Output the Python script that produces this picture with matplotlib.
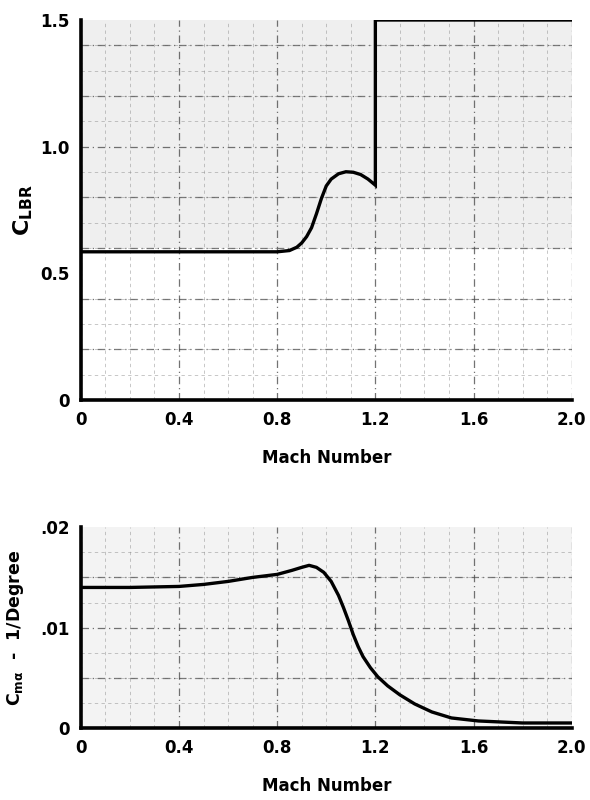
import numpy as np
import matplotlib
matplotlib.use('Agg')
import matplotlib.pyplot as plt
from matplotlib.ticker import MultipleLocator

# Lift coefficient for best range vs Mach number
mach_top = [0, 0.80, 0.85, 0.88, 0.90, 0.92, 0.94, 0.96, 0.98, 1.00, 1.02, 1.05, 1.08,
            1.11, 1.14, 1.17, 1.20, 1.20, 2.0]
clbr = [0.585, 0.585, 0.59, 0.603, 0.62, 0.645, 0.68, 0.735, 0.795, 0.845, 0.872, 0.893, 0.901,
        0.899, 0.89, 0.872, 0.848, 1.5, 1.5]

# Cm_alpha per degree vs Mach number
mach_bot = [0, 0.2, 0.4, 0.5, 0.6, 0.7, 0.8, 0.86, 0.9, 0.93, 0.96, 0.99, 1.02, 1.05, 1.07,
            1.09, 1.11, 1.13, 1.15, 1.18, 1.21, 1.25, 1.30, 1.36, 1.43, 1.51, 1.62, 1.8, 2.0]
cma = [0.0140, 0.0140, 0.0141, 0.0143, 0.0146, 0.0150, 0.0153, 0.0157, 0.0160, 0.0162, 0.0160,
       0.0155, 0.0146, 0.0132, 0.0120, 0.0107, 0.0093, 0.0081, 0.0071, 0.0060, 0.0051, 0.0042,
       0.0033, 0.0024, 0.0016, 0.0010, 0.0007, 0.0005, 0.0005]

x_ticks = [0, 0.4, 0.8, 1.2, 1.6, 2.0]
x_labels = ['0', '0.4', '0.8', '1.2', '1.6', '2.0']
top_yticks = [0, 0.5, 1.0, 1.5]
top_ylabels = ['0', '0.5', '1.0', '1.5']
top_grid = [0.2, 0.4, 0.6, 0.8, 1.0, 1.2, 1.4]
bot_yticks = [0, 0.01, 0.02]
bot_ylabels = ['0', '.01', '.02']
bot_grid = [0.005, 0.01, 0.015]

plt.rcParams['font.family'] = ['DejaVu Sans']
plt.rcParams['font.weight'] = 'bold'

dash = (0, (6, 3, 1, 3))

fig = plt.figure(figsize=(5.9, 8), dpi=100)
ax1 = fig.add_axes([0.137, 0.5, 0.832, 0.475])
ax2 = fig.add_axes([0.137, 0.09, 0.832, 0.251])


def style(ax, minor_y, grid_vals):
    ax.set_xlim(0, 2.0)
    ax.xaxis.set_minor_locator(MultipleLocator(0.1))
    ax.yaxis.set_minor_locator(MultipleLocator(minor_y))
    ax.grid(which='major', axis='x', color='#444444', linestyle=dash, linewidth=0.9, alpha=0.75)
    ax.grid(which='minor', color='#888888', linestyle=(0, (4, 4)), linewidth=0.6, alpha=0.55)
    for v in grid_vals:
        ax.axhline(v, color='#444444', linestyle=dash, linewidth=0.9, alpha=0.75, zorder=0)
    for s in ['top', 'right']:
        ax.spines[s].set_visible(False)
    for s in ['left', 'bottom']:
        ax.spines[s].set_linewidth(2.6)
    ax.tick_params(which='both', length=0, labelsize=12, pad=8)
    ax.set_xticks(x_ticks)
    ax.set_xticklabels(x_labels, fontweight='bold')
    ax.set_axisbelow(True)


style(ax1, 0.1, top_grid)
ax1.axhspan(0.6, 1.5, color='#efefef', zorder=-1, linewidth=0)
ax1.plot(mach_top, clbr, color='black', linewidth=2.4, solid_joinstyle='miter')
ax1.set_ylim(0, 1.5)
ax1.set_yticks(top_yticks)
ax1.set_yticklabels(top_ylabels, fontweight='bold')
ax1.set_xlabel('Mach Number', fontsize=12, fontweight='bold', labelpad=14)
ax1.set_ylabel(r'$\mathbf{C}_{\mathbf{LBR}}$', fontsize=16, labelpad=4)

style(ax2, 0.0025, bot_grid)
ax2.set_facecolor('#f3f3f3')
ax2.plot(mach_bot, cma, color='black', linewidth=2.4)
ax2.set_ylim(0, 0.02)
ax2.set_yticks(bot_yticks)
ax2.set_yticklabels(bot_ylabels, fontweight='bold')
ax2.set_xlabel('Mach Number', fontsize=12, fontweight='bold', labelpad=14)
ax2.set_ylabel(r'$\mathbf{C}_{\mathbf{m\alpha}}$  -  1/Degree', fontsize=12.5, fontweight='bold', labelpad=10)

fig.savefig('out.png', dpi=100)
